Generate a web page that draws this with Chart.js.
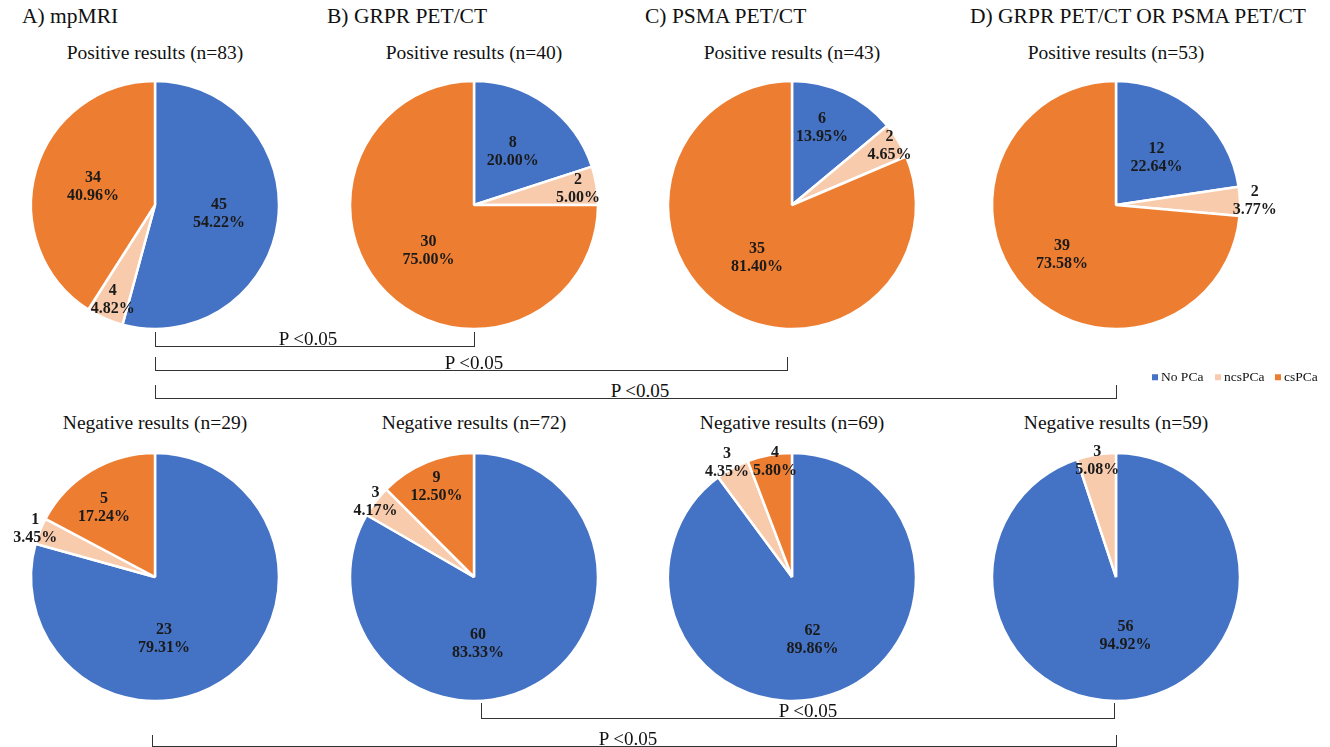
<!DOCTYPE html>
<html>
<head>
<meta charset="utf-8">
<script src="https://cdn.jsdelivr.net/npm/chart.js@4.4.1/dist/chart.umd.min.js"></script>
<style>
  body { margin: 0; background: #fff; font-family: "Liberation Serif", "Times New Roman", serif; color: #111; }
  #wrap { position: relative; width: 1330px; height: 747px; overflow: hidden; }
  .pie { position: absolute; }
  .txt { position: absolute; white-space: nowrap; line-height: 1; }
  .c { transform: translate(-50%, -50%); }
  .title { font-size: 21.5px; transform: translateY(-50%); }
  .sub { font-size: 19.5px; }
  .p { font-size: 19px; }
  .br { position: absolute; border: 1px solid #333; border-top: none; box-sizing: border-box; }
  .leg { font-size: 13.5px; transform: translateY(-50%); display: flex; align-items: center; }
  .leg span.sq { display: inline-block; width: 6px; height: 6px; margin-right: 3px; }
</style>
</head>
<body>
<div id="wrap"></div>
<script>
const categories = ['No PCa', 'ncsPCa', 'csPCa'];
const panelTitles = ['A) mpMRI', 'B) GRPR PET/CT', 'C) PSMA PET/CT', 'D) GRPR PET/CT OR PSMA PET/CT'];
const positiveCounts = [[45, 4, 34], [8, 2, 30], [6, 2, 35], [12, 2, 39]];
const negativeCounts = [[23, 1, 5], [60, 3, 9], [62, 3, 4], [56, 3, 0]];
const pValueText = 'P <0.05';

const colors = ['#4472C4', '#F8CBAD', '#ED7D31'];

// layout
const centersX = [155, 474, 792, 1116];
const centersY = [205, 577];
const titleX = [22, 327, 645, 970];
const posLabelR = [[0.52, 0.84, 0.52], [0.53, 0.85, 0.52], [0.67, 0.92, 0.51], [0.5, 1.12, 0.59]];
const posLabelShift = [[0, 0, 0], [0, 0, 0], [-4, 0, 0], [0, 0, 0]];
const negLabelR = [[0.5, 1.04, 0.69], [0.54, 1.0, 0.79], [0.53, 1.06, 0.94], [0.48, 0.95, 0.5]];
const negLabelShift = [[29, 0, -5.5], [26.6, 0, 0], [0, -1, 2], [0, 0, 0]];

const wrap = document.getElementById('wrap');

function addText(text, cls, x, y) {
  const d = document.createElement('div');
  d.className = 'txt ' + cls;
  d.textContent = text;
  d.style.left = x + 'px';
  d.style.top = y + 'px';
  wrap.appendChild(d);
  return d;
}

const sliceLabels = {
  id: 'sliceLabels',
  afterDatasetsDraw(chart, args, opts) {
    const ctx = chart.ctx;
    const data = chart.data.datasets[0].data;
    const total = data.reduce((a, b) => a + b, 0);
    const meta = chart.getDatasetMeta(0);
    ctx.save();
    ctx.font = 'bold 16px "Liberation Serif", serif';
    ctx.fillStyle = '#1a1a1a';
    ctx.textAlign = 'center';
    ctx.textBaseline = 'middle';
    meta.data.forEach((arc, i) => {
      if (!data[i]) return;
      const p = arc.getProps(['x', 'y', 'startAngle', 'endAngle', 'outerRadius'], true);
      const mid = (p.startAngle + p.endAngle) / 2 + opts.shift[i] * Math.PI / 180;
      const r = p.outerRadius * opts.radius[i];
      const lx = p.x + Math.cos(mid) * r;
      const ly = p.y + Math.sin(mid) * r;
      ctx.fillText(String(data[i]), lx, ly - 9);
      ctx.fillText((data[i] / total * 100).toFixed(2) + '%', lx, ly + 9);
    });
    ctx.restore();
  }
};

function makePie(counts, cx, cy, labelR, labelShift) {
  const canvas = document.createElement('canvas');
  canvas.className = 'pie';
  canvas.width = 340;
  canvas.height = 340;
  canvas.style.left = (cx - 170) + 'px';
  canvas.style.top = (cy - 170) + 'px';
  wrap.appendChild(canvas);
  new Chart(canvas, {
    type: 'pie',
    data: {
      labels: categories,
      datasets: [{
        data: counts,
        backgroundColor: colors,
        borderColor: '#fff',
        borderWidth: 2.5
      }]
    },
    options: {
      responsive: false,
      animation: false,
      radius: 124,
      layout: { padding: 0 },
      plugins: {
        legend: { display: false },
        tooltip: { enabled: false },
        sliceLabels: { radius: labelR, shift: labelShift }
      }
    },
    plugins: [sliceLabels]
  });
}

const sum = arr => arr.reduce((a, b) => a + b, 0);

panelTitles.forEach((t, i) => {
  addText(t, 'title', titleX[i], 17);
  addText('Positive results (n=' + sum(positiveCounts[i]) + ')', 'sub c', centersX[i], 53);
  addText('Negative results (n=' + sum(negativeCounts[i]) + ')', 'sub c', centersX[i], 423);
  makePie(positiveCounts[i], centersX[i], centersY[0], posLabelR[i], posLabelShift[i]);
  makePie(negativeCounts[i], centersX[i], centersY[1], negLabelR[i], negLabelShift[i]);
});

// significance brackets
function bracket(x1, x2, yTop, yLine, textX, textY) {
  const d = document.createElement('div');
  d.className = 'br';
  d.style.left = x1 + 'px';
  d.style.width = (x2 - x1 + 1) + 'px';
  d.style.top = yTop + 'px';
  d.style.height = (yLine - yTop + 1) + 'px';
  wrap.appendChild(d);
  addText(pValueText, 'p c', textX, textY);
}
bracket(155, 474, 332, 346, 308, 338);
bracket(155, 787, 357, 370, 474, 362);
bracket(155, 1116, 385, 398, 640, 390);
bracket(481, 1114, 703, 718, 808, 710);
bracket(152, 1116, 735, 746, 628, 738);

// legend
const legX = [1152, 1215, 1275];
categories.forEach((c, i) => {
  const d = document.createElement('div');
  d.className = 'txt leg';
  d.style.left = legX[i] + 'px';
  d.style.top = '377px';
  d.innerHTML = '<span class="sq"></span>';
  d.firstChild.style.background = colors[i];
  d.appendChild(document.createTextNode(c));
  wrap.appendChild(d);
});
</script>
</body>
</html>
